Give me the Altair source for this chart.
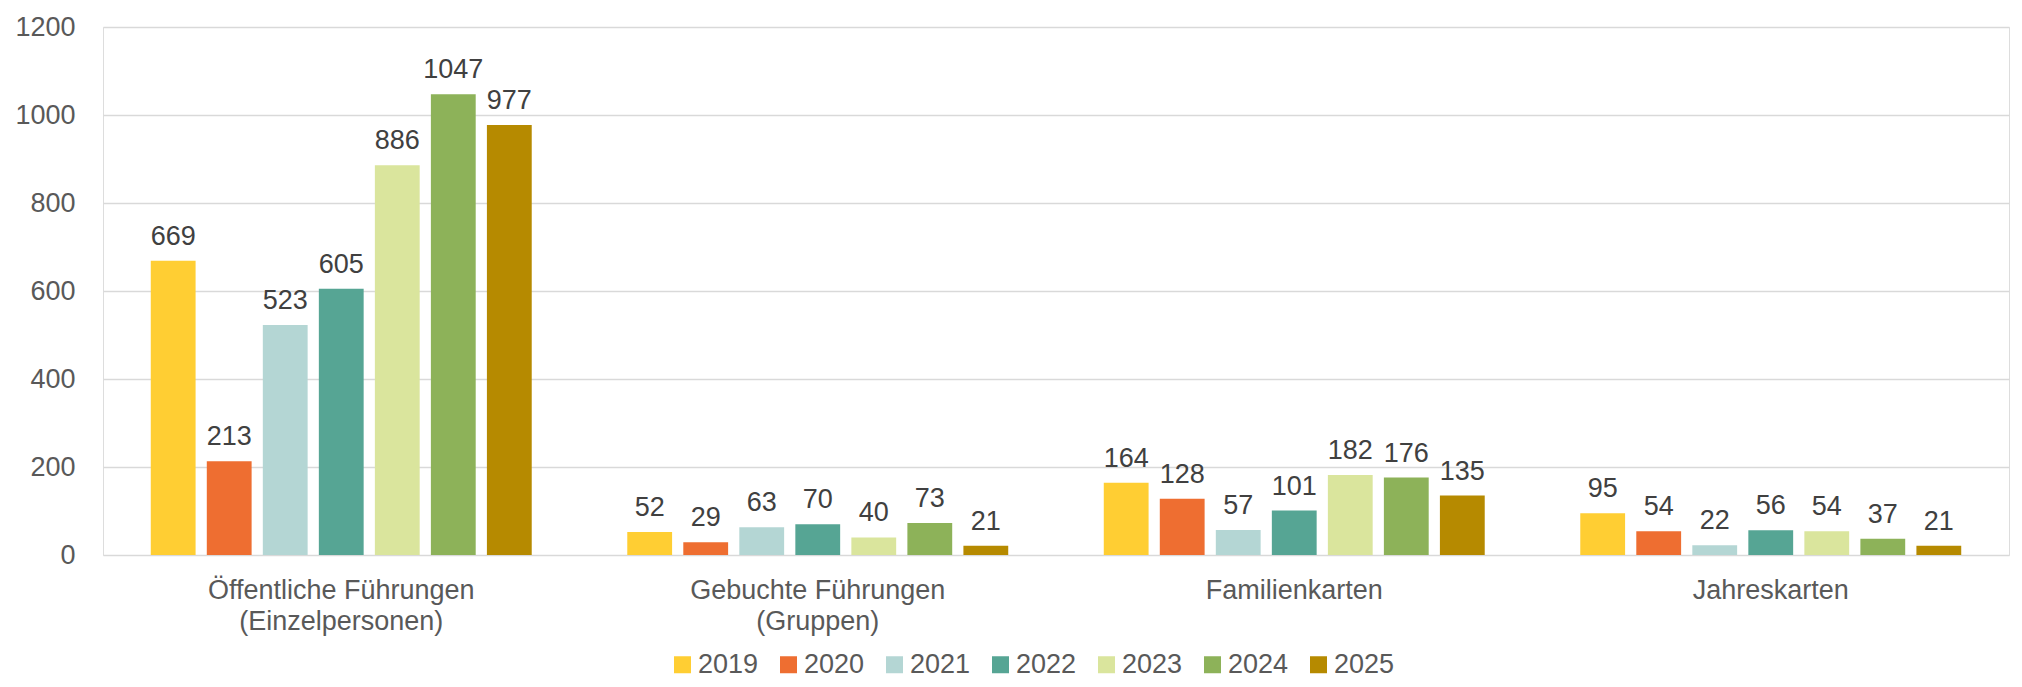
import altair as alt
import pandas as pd

categories = [
    "Öffentliche Führungen\n(Einzelpersonen)",
    "Gebuchte Führungen\n(Gruppen)",
    "Familienkarten",
    "Jahreskarten",
]
years = ["2019", "2020", "2021", "2022", "2023", "2024", "2025"]
v_oeffentlich = [669, 213, 523, 605, 886, 1047, 977]
v_gebucht = [52, 29, 63, 70, 40, 73, 21]
v_familie = [164, 128, 57, 101, 182, 176, 135]
v_jahres = [95, 54, 22, 56, 54, 37, 21]
colors = ["#FFCE33", "#EE6E31", "#B4D6D4", "#56A594", "#DAE59D", "#8DB259", "#B68A00"]

series = [v_oeffentlich, v_gebucht, v_familie, v_jahres]
rows = []
for cat, vals in zip(categories, series):
    for y, v in zip(years, vals):
        rows.append({"Kategorie": cat, "Jahr": y, "Wert": v})
df = pd.DataFrame(rows)

FONT = "Liberation Sans"

x_enc = alt.X(
    "Kategorie:N",
    sort=categories,
    scale=alt.Scale(paddingInner=0.177, paddingOuter=0.0885),
    axis=alt.Axis(
        title=None,
        labelAngle=0,
        labelExpr="split(datum.label, '\\n')",
        labelFont=FONT,
        labelFontSize=27,
        labelColor="#595959",
        labelPadding=22,
        labelLineHeight=31,
        labelBaseline="top",
        labelLimit=0,
        ticks=False,
        domain=False,
        grid=False,
    ),
)
xoff_enc = alt.XOffset(
    "Jahr:N", sort=years, scale=alt.Scale(paddingInner=0.2, paddingOuter=0.1)
)
y_enc = alt.Y(
    "Wert:Q",
    scale=alt.Scale(domain=[0, 1200], nice=False),
    axis=alt.Axis(
        title=None,
        values=[0, 200, 400, 600, 800, 1000, 1200],
        format="d",
        grid=True,
        gridColor="#D9D9D9",
        gridWidth=1.5,
        domain=False,
        ticks=False,
        labelPadding=28,
        labelFont=FONT,
        labelFontSize=27,
        labelColor="#595959",
    ),
)

bars = alt.Chart(df).mark_bar().encode(
    x=x_enc,
    xOffset=xoff_enc,
    y=y_enc,
    color=alt.Color(
        "Jahr:N",
        sort=years,
        scale=alt.Scale(domain=years, range=colors),
        legend=alt.Legend(
            title=None,
            orient="none",
            legendX=566,
            legendY=624,
            direction="horizontal",
            columns=7,
            symbolType="square",
            symbolSize=289,
            symbolStrokeWidth=0,
            labelFont=FONT,
            labelFontSize=27,
            labelColor="#595959",
            labelOffset=2,
            columnPadding=16,
            padding=0,
        ),
    ),
)

labels = alt.Chart(df).mark_text(
    baseline="alphabetic", dy=-16, fontSize=27, color="#404040", font=FONT
).encode(
    x=alt.X("Kategorie:N", sort=categories),
    xOffset=alt.XOffset("Jahr:N", sort=years),
    y=alt.Y("Wert:Q"),
    text=alt.Text("Wert:Q"),
)

chart = (
    alt.layer(bars, labels)
    .properties(
        width=1906,
        height=528,
        autosize=alt.AutoSizeParams(type="none"),
        padding={"left": 95, "top": 19, "right": 5, "bottom": 124},
    )
    .configure_view(strokeWidth=0)
    .configure(background="white")
)

chart.save("out.html", embed_options={"renderer": "svg", "actions": False})
